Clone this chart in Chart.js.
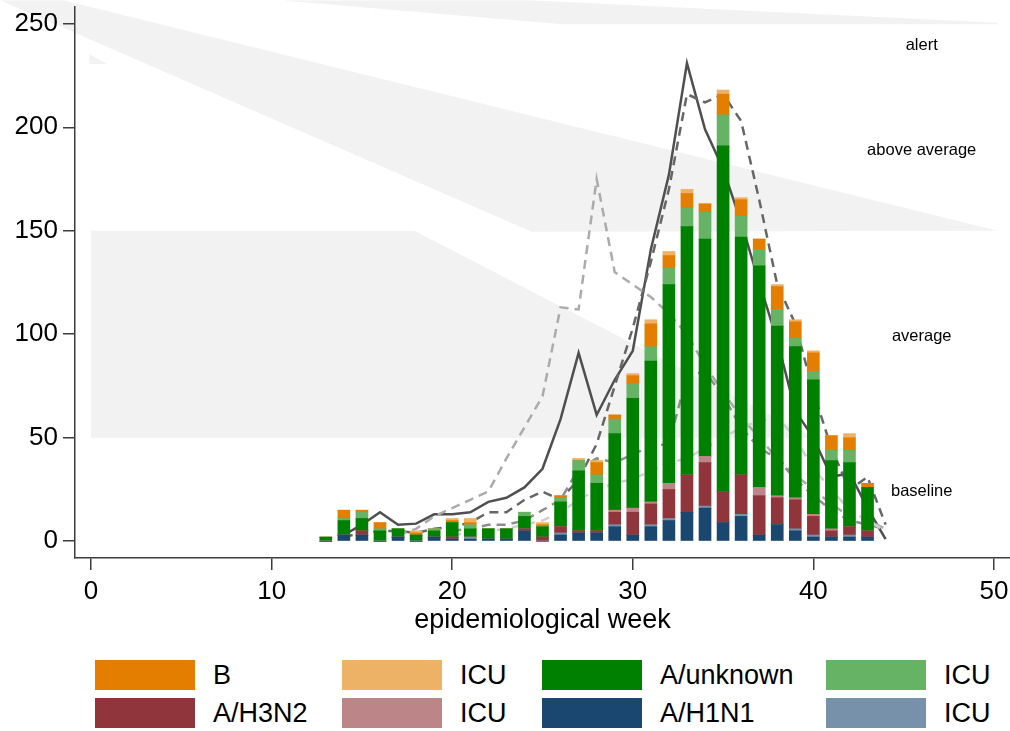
<!DOCTYPE html>
<html lang="en">
<head>
<meta charset="utf-8">
<title>Influenza cases by epidemiological week</title>
<script src="https://cdn.jsdelivr.net/npm/chart.js"></script>
<style>
    html, body { margin: 0; padding: 0; background: #fff; }
    body { width: 1010px; height: 731px; position: relative; overflow: hidden; font-family: "Liberation Sans", Arial, sans-serif; }
    #chartBox { position: absolute; left: 0; top: 0; width: 1010px; height: 640px; }
    .item { position: absolute; height: 30px; display: flex; align-items: center; font-size: 27px; color: #000; white-space: nowrap; }
    .swatch { width: 100px; height: 30px; margin-right: 18px; }
</style>
</head>
<body>
<div id="chartBox"><canvas id="fluChart" width="1010" height="640"></canvas></div>
<div id="legend"></div>

<script>
    // weekly counts (stack order bottom -> top)
    const weeks = [13, 14, 15, 16, 17, 18, 19, 20, 21, 22, 23, 24, 25, 26, 27, 28, 29, 30, 31, 32, 33, 34, 35, 36, 37, 38, 39, 40, 41, 42, 43];
    const h1n1     = [0, 3, 3, 0, 2, 0, 2, 1, 1, 1, 1, 5, 0, 3, 4, 4, 7, 3, 7, 10, 14, 16, 9, 12, 3, 8, 5, 2, 2, 2, 2];
    const h1n1Icu  = [0, 0, 0, 0, 0, 0, 0, 0, 1, 0, 0, 0, 0, 1, 0, 0, 1, 0, 1, 1, 0, 1, 0, 1, 0, 0, 1, 1, 0, 1, 0];
    const h3n2     = [0, 0, 2, 0, 0, 0, 0, 1, 0, 0, 0, 1, 2, 3, 1, 1, 6, 11, 10, 14, 18, 21, 15, 19, 19, 13, 14, 9, 3, 4, 3];
    const h3n2Icu  = [0, 0, 0, 0, 0, 0, 0, 0, 0, 0, 0, 0, 0, 0, 0, 0, 1, 2, 1, 3, 0, 3, 0, 0, 4, 1, 1, 1, 1, 0, 0];
    const aUnk     = [2, 7, 6, 5, 4, 3, 3, 7, 4, 5, 5, 6, 5, 12, 29, 23, 37, 53, 68, 96, 120, 105, 167, 115, 107, 82, 73, 65, 33, 31, 21];
    const aUnkIcu  = [0, 1, 3, 1, 0, 0, 1, 0, 2, 0, 0, 2, 0, 2, 5, 4, 7, 7, 7, 8, 9, 13, 15, 10, 8, 8, 4, 4, 5, 6, 0];
    const fluB     = [0, 4, 1, 3, 0, 1, 0, 1, 1, 0, 0, 0, 1, 1, 0, 6, 2, 4, 11, 6, 7, 4, 10, 8, 5, 11, 8, 9, 7, 6, 2];
    const fluBIcu  = [0, 0, 0, 0, 0, 1, 0, 1, 2, 0, 0, 0, 1, 0, 1, 1, 0, 1, 2, 2, 2, 0, 2, 1, 0, 1, 1, 1, 0, 2, 0];

    // earlier seasons, same weeks
    const lineWeeks = [14, 15, 16, 17, 18, 19, 20, 21, 22, 23, 24, 25, 26, 27, 28, 29, 30, 31, 32, 33, 34, 35, 36, 37, 38, 39, 40, 41, 42, 43, 44];
    const seasonSolid  = [3, 8, 14, 8, 8.5, 13, 13, 14, 19, 21, 26, 35, 59, 91, 61, 78, 92, 141, 177, 231, 199, 180, 154, 125, 97, 63, 50, 31, 33, 16, 1];
    const seasonDashed = [2, 4, 5, 5, 4, 6, 7, 9, 14, 14, 20, 24, 20, 30, 47, 75, 103, 135, 170, 216, 212, 216, 203, 165, 124, 105, 72, 45, 25, 31, 8];
    const seasonLight  = [null, null, null, 3, 6, 12, 16, 20, 24, 40, 55, 70, 113, 112, 175, 130, 124, 118, 110, 100, 85, 72, 60, 50, 40, 32, 25, 18, 12, 10, 6];
    const seasonMid    = [null, null, null, null, null, null, 5, 6, 8, 8, 10, 15, 20, 35, 40, 38, 42, 46, 47, 80, 82, 70, 55, 45, 40, 30, 22, 15, 10, 8, 6];
    const seasonPale   = [null, null, null, null, null, null, 3, 4, 5, 6, 8, 10, 14, 20, 25, 28, 30, 34, 38, 40, 45, 50, 55, 58, 60, 50, 35, 25, 15, 10, 5];

    const xTicks = [0, 10, 20, 30, 40, 50];
    const yTicks = [0, 50, 100, 150, 200, 250];

    // intensity zones (week, count)
    const alertZone   = [[10.6, 261.3], [24.5, 261.3], [50.2, 250.5], [50.2, 249.8], [26.1, 249.8]];
    const aboveZone   = [[-5.0, 261.3], [-1.5, 261.3], [50.2, 150], [24.4, 149.5]];
    const averageZone = [[0, 150], [17.9, 150], [40.1, 50], [0, 50]];
    const alertSliver = [[-0.1, 235.3], [0.9, 230.6], [-0.1, 230.6]];
    const zoneNames = ['alert', 'above average', 'average', 'baseline'];
    const zoneNameY = [239.4, 189, 99, 23.9];
    const zoneNameX = 46;

    const FONT = '"Liberation Sans", Arial, sans-serif';

    const pts = (xs, ys) => xs.map((x, i) => ({x: x, y: ys[i]}));

    const barSeries = [
        {label: 'A/H1N1',    data: h1n1,    color: '#1a476f'},
        {label: 'ICU',       data: h1n1Icu, color: '#7691a9'},
        {label: 'A/H3N2',    data: h3n2,    color: '#90353b'},
        {label: 'ICU',       data: h3n2Icu, color: '#bc8689'},
        {label: 'A/unknown', data: aUnk,    color: '#008000'},
        {label: 'ICU',       data: aUnkIcu, color: '#66b366'},
        {label: 'B',         data: fluB,    color: '#e37e00'},
        {label: 'ICU',       data: fluBIcu, color: '#eeb266'}
    ];

    const lineSeries = [
        {data: seasonPale,   color: '#cfcfcf', dash: [9, 6]},
        {data: seasonMid,    color: '#8e8e8e', dash: [9, 6]},
        {data: seasonLight,  color: '#ababab', dash: [9, 6]},
        {data: seasonDashed, color: '#666666', dash: [9, 6]},
        {data: seasonSolid,  color: '#4f4f4f', dash: []}
    ];

    const datasets = [];
    lineSeries.forEach((s, i) => {
        datasets.push({
            type: 'line',
            data: pts(lineWeeks, s.data),
            borderColor: s.color,
            borderWidth: 2.5,
            borderDash: s.dash,
            pointRadius: 0,
            tension: 0,
            fill: false,
            spanGaps: false,
            stack: 'season' + i,
            order: 2
        });
    });
    barSeries.forEach(s => {
        datasets.push({
            type: 'bar',
            data: pts(weeks, s.data),
            backgroundColor: s.color,
            borderWidth: 0,
            barThickness: 12,
            grouped: false,
            stack: 'flu',
            order: 1
        });
    });

    // shaded zones behind everything, zone names on top
    const zones = {
        id: 'zones',
        beforeDraw(chart) {
            const {ctx, scales: {x, y}} = chart;
            ctx.save();
            ctx.fillStyle = '#f2f2f2';
            [alertZone, aboveZone, averageZone, alertSliver].forEach(poly => {
                ctx.beginPath();
                poly.forEach((p, i) => {
                    const px = x.getPixelForValue(p[0]);
                    const py = y.getPixelForValue(p[1]);
                    if (i === 0) ctx.moveTo(px, py); else ctx.lineTo(px, py);
                });
                ctx.closePath();
                ctx.fill();
            });
            ctx.restore();
        },
        afterDatasetsDraw(chart) {
            const {ctx, scales: {x, y}} = chart;
            ctx.save();
            ctx.fillStyle = '#000';
            ctx.font = '16.5px ' + FONT;
            ctx.textAlign = 'center';
            ctx.textBaseline = 'middle';
            zoneNames.forEach((t, i) => {
                ctx.fillText(t, x.getPixelForValue(zoneNameX), y.getPixelForValue(zoneNameY[i]));
            });
            ctx.restore();
        }
    };

    const axisGrid = {drawOnChartArea: false, drawTicks: true, tickLength: 12, color: '#3c3c3c', lineWidth: 1.5, offset: false};
    const axisBorder = {display: true, color: '#3c3c3c', width: 1.5};

    new Chart(document.getElementById('fluChart').getContext('2d'), {
        type: 'bar',
        data: {datasets: datasets},
        options: {
            responsive: false,
            animation: false,
            layout: {padding: {top: 7, left: 0, right: 0, bottom: 0}},
            plugins: {legend: {display: false}, tooltip: {enabled: false}},
            scales: {
                x: {
                    type: 'linear',
                    offset: false,
                    min: -0.89,
                    max: 50.89,
                    afterBuildTicks: s => { s.ticks = xTicks.map(v => ({value: v})); },
                    afterFit: s => { s.height = 82; s.paddingLeft = 0; s.paddingRight = 0; },
                    grid: axisGrid,
                    border: axisBorder,
                    ticks: {color: '#000', font: {family: FONT, size: 26}, padding: 6, maxRotation: 0, autoSkip: false},
                    title: {display: true, text: 'epidemiological week', color: '#000', font: {family: FONT, size: 27}, padding: {top: 0, bottom: 3}}
                },
                y: {
                    stacked: true,
                    min: -8.1,
                    max: 258.1,
                    afterBuildTicks: s => { s.ticks = yTicks.map(v => ({value: v})); },
                    afterFit: s => { s.width = 75; s.paddingTop = 0; s.paddingBottom = 0; },
                    grid: axisGrid,
                    border: axisBorder,
                    ticks: {color: '#000', font: {family: FONT, size: 26}, padding: 5}
                }
            }
        },
        plugins: [zones]
    });

    // legend: two rows, four columns (B row on top)
    const legendRows = [[6, 7, 4, 5], [2, 3, 0, 1]];
    const colLeft = [95, 342, 542, 826];
    const rowTop = [660, 698];
    const legend = document.getElementById('legend');
    legendRows.forEach((row, r) => {
        row.forEach((k, c) => {
            const item = document.createElement('div');
            item.className = 'item';
            item.style.left = colLeft[c] + 'px';
            item.style.top = rowTop[r] + 'px';
            const sw = document.createElement('span');
            sw.className = 'swatch';
            sw.style.background = barSeries[k].color;
            item.appendChild(sw);
            item.appendChild(document.createTextNode(barSeries[k].label));
            legend.appendChild(item);
        });
    });
</script>
</body>
</html>
